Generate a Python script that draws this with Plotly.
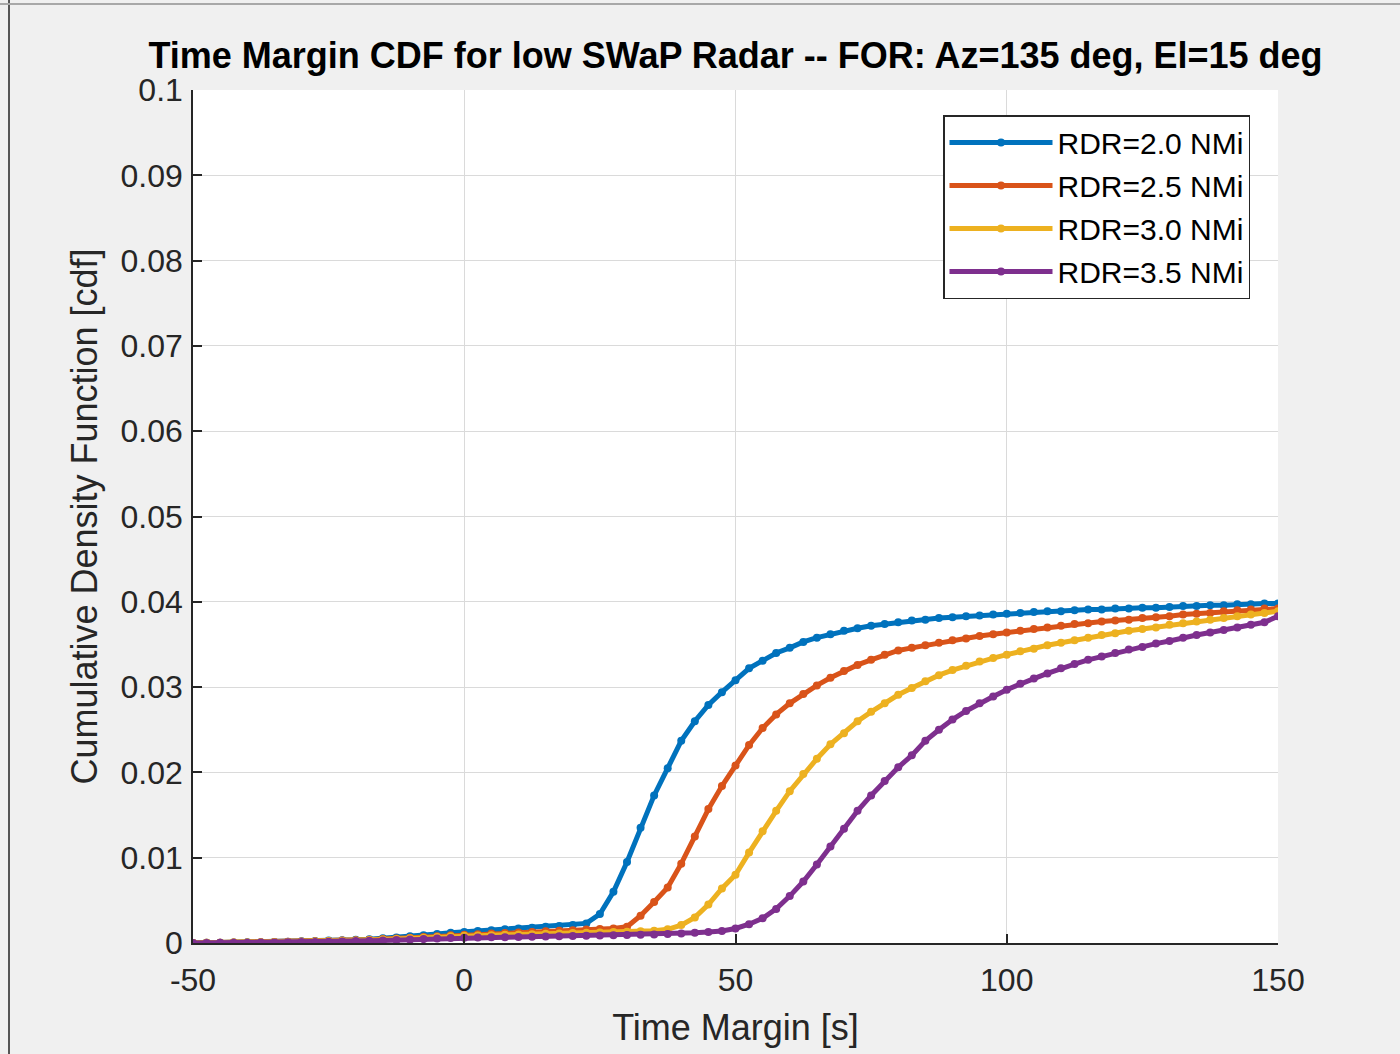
import plotly.graph_objects as go

# Time margin samples (s), -50 .. 150 in 2.5 s steps
time_margin = [-50 + 2.5 * i for i in range(81)]

cdf_rdr_2_0 = [
    0.0000, 0.00002, 0.00004, 0.00006, 0.00008, 0.0001, 0.00013, 0.00016, 0.0002, 0.00024,
    0.00028, 0.00033, 0.00038, 0.00045, 0.00055, 0.00065, 0.00078, 0.0009, 0.00105, 0.0012,
    0.0013, 0.0014, 0.0015, 0.0016, 0.0017, 0.0018, 0.0019, 0.0020, 0.0021, 0.0023,
    0.0034, 0.0060, 0.0095, 0.0135, 0.0173, 0.0205, 0.0237, 0.0260, 0.0279, 0.0294,
    0.0308, 0.0322, 0.0331, 0.0340, 0.0346, 0.0353, 0.0358, 0.0362, 0.0366, 0.0369,
    0.0372, 0.0374, 0.0376, 0.0378, 0.0379, 0.0381, 0.0382, 0.0383, 0.0384, 0.0385,
    0.0386, 0.0387, 0.0388, 0.0389, 0.0389, 0.0390, 0.0391, 0.0391, 0.0392, 0.0392,
    0.0393, 0.0393, 0.0394, 0.0395, 0.0395, 0.0396, 0.0396, 0.0397, 0.0397, 0.0398,
    0.0398,
]

cdf_rdr_2_5 = [
    0.0000, 0.00002, 0.00003, 0.00005, 0.00007, 0.00009, 0.00011, 0.00014, 0.00017, 0.0002,
    0.00024, 0.00028, 0.00033, 0.00039, 0.00046, 0.00053, 0.00061, 0.0007, 0.0008, 0.0009,
    0.00097, 0.00104, 0.0011, 0.00117, 0.00124, 0.0013, 0.00137, 0.00143, 0.0015, 0.00157,
    0.00163, 0.0017, 0.0019, 0.0032, 0.0048, 0.0065, 0.0093, 0.0125, 0.0157, 0.0184,
    0.0208, 0.0232, 0.0252, 0.0268, 0.0281, 0.0292, 0.0302, 0.0311, 0.0319, 0.0326,
    0.0332, 0.0338, 0.0343, 0.0346, 0.0349, 0.0352, 0.0355, 0.0357, 0.0360, 0.0362,
    0.0364, 0.0366, 0.0368, 0.0370, 0.0372, 0.0374, 0.0375, 0.0377, 0.0378, 0.0379,
    0.0381, 0.0382, 0.0383, 0.0385, 0.0386, 0.0387, 0.0389, 0.0390, 0.0391, 0.0392,
    0.0392,
]

cdf_rdr_3_0 = [
    0.0000, 0.00002, 0.00003, 0.00005, 0.00007, 0.00009, 0.00011, 0.00013, 0.00016, 0.00019,
    0.00022, 0.00026, 0.0003, 0.00035, 0.00041, 0.00048, 0.00055, 0.00062, 0.0007, 0.0008,
    0.00084, 0.00088, 0.00092, 0.00096, 0.001, 0.00104, 0.00108, 0.00112, 0.00116, 0.0012,
    0.00124, 0.00128, 0.00132, 0.00138, 0.00145, 0.0016, 0.0021, 0.0030, 0.0045, 0.0064,
    0.0080, 0.0106, 0.0131, 0.0155, 0.0178, 0.0198, 0.0216, 0.0233, 0.0246, 0.0260,
    0.0271, 0.0281, 0.0291, 0.0299, 0.0307, 0.0314, 0.0320, 0.0325, 0.0330, 0.0334,
    0.0338, 0.0342, 0.0345, 0.0349, 0.0352, 0.0355, 0.0358, 0.0361, 0.0363, 0.0366,
    0.0368, 0.0370, 0.0373, 0.0375, 0.0377, 0.0379, 0.0381, 0.0383, 0.0385, 0.0387,
    0.0389,
]

cdf_rdr_3_5 = [
    0.0000, 0.00001, 0.00002, 0.00003, 0.00004, 0.00005, 0.00007, 0.00009, 0.00011, 0.00013,
    0.00016, 0.00019, 0.00022, 0.00026, 0.0003, 0.00035, 0.0004, 0.00046, 0.00052, 0.0006,
    0.00062, 0.00064, 0.00066, 0.00068, 0.0007, 0.00073, 0.00076, 0.00079, 0.00082, 0.00085,
    0.00088, 0.00091, 0.00094, 0.00097, 0.001, 0.00105, 0.0011, 0.0012, 0.0013, 0.0014,
    0.0017, 0.0022, 0.0029, 0.0040, 0.0055, 0.0072, 0.0092, 0.0113, 0.0134, 0.0155,
    0.0173, 0.0190, 0.0206, 0.0220, 0.0237, 0.0250, 0.0262, 0.0272, 0.0281, 0.0289,
    0.0297, 0.0304, 0.0310, 0.0316, 0.0322, 0.0327, 0.0332, 0.0336, 0.0340, 0.0344,
    0.0347, 0.0351, 0.0354, 0.0358, 0.0361, 0.0364, 0.0367, 0.0370, 0.0373, 0.0376,
    0.0383,
]

series_names = ["RDR=2.0 NMi", "RDR=2.5 NMi", "RDR=3.0 NMi", "RDR=3.5 NMi"]
series_values = [cdf_rdr_2_0, cdf_rdr_2_5, cdf_rdr_3_0, cdf_rdr_3_5]
series_colors = ["#0072BD", "#D95319", "#EDB120", "#7E2F8E"]

x_tick_vals = [-50, 0, 50, 100, 150]
x_tick_text = ["-50", "0", "50", "100", "150"]
y_tick_vals = [0, 0.01, 0.02, 0.03, 0.04, 0.05, 0.06, 0.07, 0.08, 0.09, 0.1]
y_tick_text = ["0", "0.01", "0.02", "0.03", "0.04", "0.05", "0.06", "0.07", "0.08", "0.09", "0.1"]

FONT = "Liberation Sans, Arial, Helvetica, sans-serif"
AXIS_GREY = "#262626"

fig = go.Figure()
for i, (name, vals, col) in enumerate(zip(series_names, series_values, series_colors)):
    fig.add_trace(go.Scatter(
        x=time_margin, y=vals, name=name, mode="lines+markers",
        line=dict(color=col, width=5),
        marker=dict(color=col, size=8, symbol="circle"),
        legendgroup=f"g{i}",
    ))

W, H = 1400, 1054
L, R, T, B = 193, 1278, 90, 943

def px_to_paper_x(px):
    return (px - L) / (R - L)

def px_to_paper_y(py):
    return (B - py) / (B - T)

fig.update_layout(
    width=W, height=H,
    margin=dict(l=L, r=W - R, t=T, b=H - B, pad=0),
    paper_bgcolor="#f0f0f0",
    plot_bgcolor="#ffffff",
    font=dict(family=FONT, color=AXIS_GREY),
    title=dict(
        text="<b>Time Margin CDF for low SWaP Radar -- FOR: Az=135 deg, El=15 deg</b>",
        font=dict(family=FONT, size=36, color="#000000"),
        x=0.5, xref="paper", xanchor="center",
        y=1 - 55 / H, yref="container", yanchor="middle",
    ),
    xaxis=dict(
        range=[-50, 150], tickvals=x_tick_vals, ticktext=x_tick_text,
        showgrid=True, gridcolor="#dadada", gridwidth=1.4,
        zeroline=False, showline=True, linecolor=AXIS_GREY, linewidth=1.5,
        ticks="inside", ticklen=9, tickwidth=1.5, tickcolor=AXIS_GREY,
        tickfont=dict(size=32, color=AXIS_GREY), ticklabelstandoff=8,
        title=dict(text="Time Margin [s]", font=dict(size=36, color=AXIS_GREY), standoff=18),
        mirror=False,
    ),
    yaxis=dict(
        range=[0, 0.1], tickvals=y_tick_vals, ticktext=y_tick_text,
        showgrid=True, gridcolor="#dadada", gridwidth=1.4,
        zeroline=False, showline=True, linecolor=AXIS_GREY, linewidth=1.5,
        ticks="inside", ticklen=9, tickwidth=1.5, tickcolor=AXIS_GREY,
        tickfont=dict(size=32, color=AXIS_GREY), ticklabelstandoff=2,
        title=dict(text="Cumulative Density Function [cdf]", font=dict(size=36, color=AXIS_GREY), standoff=12),
        mirror=False,
    ),
    legend=dict(
        x=px_to_paper_x(1250), xanchor="right",
        y=px_to_paper_y(115), yanchor="top",
        bgcolor="#ffffff", bordercolor=AXIS_GREY, borderwidth=1.5,
        font=dict(family=FONT, size=30, color="#000000"),
        tracegroupgap=1, itemwidth=103,
    ),
    showlegend=True,
)

# window frame edges around the figure
fig.add_shape(type="line", xref="paper", yref="paper",
              x0=px_to_paper_x(9), x1=px_to_paper_x(9),
              y0=px_to_paper_y(0), y1=px_to_paper_y(H),
              line=dict(color="#555555", width=2))
fig.add_shape(type="line", xref="paper", yref="paper",
              x0=px_to_paper_x(0), x1=px_to_paper_x(W),
              y0=px_to_paper_y(4), y1=px_to_paper_y(4),
              line=dict(color="#a8a8a8", width=2))

fig.write_html("out.html")
